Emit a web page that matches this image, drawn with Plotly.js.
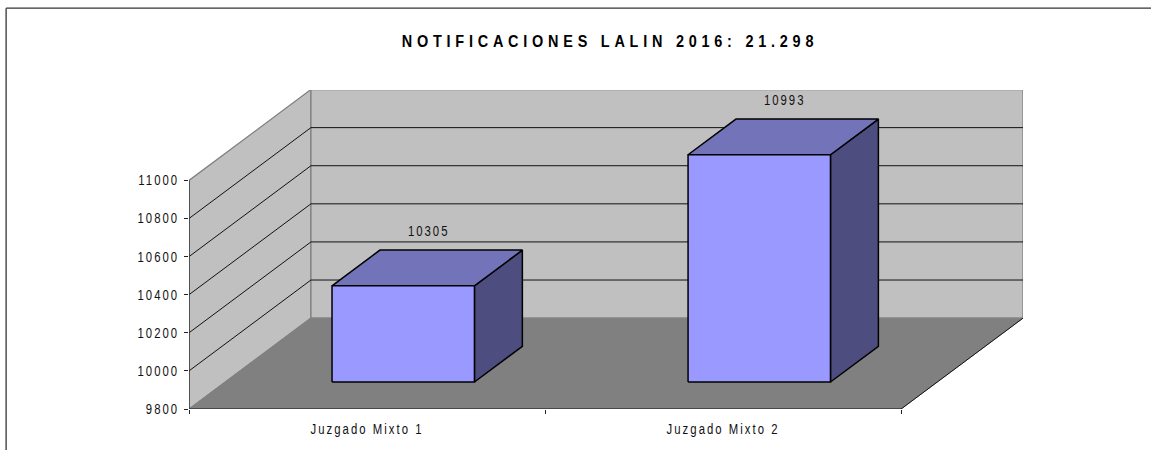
<!DOCTYPE html>
<html><head><meta charset="utf-8">
<script src="https://cdn.plot.ly/plotly-3.0.1.min.js"></script>
<style>
html,body{margin:0;padding:0;background:#fff}
#chart{width:1151px;height:450px}
.gtitle{letter-spacing:5.6px}
.xtick text,.ytick text,.annotation-text{letter-spacing:2.5px}
</style></head><body><div id="chart"></div>
<script>
const chartTitle = 'NOTIFICACIONES LALIN 2016: 21.298';
const categories = ['Juzgado Mixto 1', 'Juzgado Mixto 2'];
const values = [10305, 10993];
const yTicks = [9800, 10000, 10200, 10400, 10600, 10800, 11000];
const yTickLabels = ['9800', '10000', '10200', '10400', '10600', '10800', '11000'];
const yBase = 9800, yTop = 11000;
const catPx = 356.25;
const depthX = 122 / catPx, depthY = 477;        // oblique depth vector in axis units
const barHalf = 0.2, barD0 = 0.297, barD1 = 0.69;
const nCat = categories.length;
const P = (x, v, d) => [x + d * depthX, v + d * depthY];
const poly = (pts, fill, lineColor, lineWidth) => ({
  type: 'scatter', mode: 'lines', cliponaxis: false, hoverinfo: 'skip', showlegend: false,
  x: pts.map(p => p[0]), y: pts.map(p => p[1]),
  fill: fill ? 'toself' : 'none', fillcolor: fill || undefined,
  line: {color: lineColor, width: lineWidth}
});
const traces = [];
// walls and floor
traces.push(poly([P(0,yBase,0),P(0,yBase,1),P(0,yTop,1),P(0,yTop,0),P(0,yBase,0)], '#c0c0c0', '#808080', 1.3));
traces.push(poly([P(0,yBase,1),P(nCat,yBase,1),P(nCat,yTop,1),P(0,yTop,1),P(0,yBase,1)], '#c0c0c0', '#808080', 1.3));
traces.push(poly([P(0,yBase,0),P(nCat,yBase,0),P(nCat,yBase,1),P(0,yBase,1),P(0,yBase,0)], '#808080', '#808080', 1));
// gridlines
yTicks.slice(1, -1).forEach(v => {
  traces.push(poly([P(0,v,0),P(0,v,1),P(nCat,v,1)], null, '#111', 1));
});
// floor front / right edges and value axis
traces.push(poly([P(nCat,yBase,1),P(nCat,yBase,0),P(0,yBase,0)], null, '#111', 1));
traces.push(poly([P(0,yBase,0),P(0,yTop,0)], null, '#333', 1.4));
// bars
values.forEach((v, i) => {
  const a = i + 0.5 - barHalf, b = i + 0.5 + barHalf;
  traces.push(poly([P(b,yBase,barD0),P(b,yBase,barD1),P(b,v,barD1),P(b,v,barD0),P(b,yBase,barD0)], '#4d4d80', '#000', 1.5));
  traces.push(poly([P(a,v,barD0),P(a,v,barD1),P(b,v,barD1),P(b,v,barD0),P(a,v,barD0)], '#7373ba', '#000', 1.5));
  traces.push(poly([P(a,yBase,barD0),P(b,yBase,barD0),P(b,v,barD0),P(a,v,barD0),P(a,yBase,barD0)], '#9999ff', '#000', 1.5));
});
const annotations = values.map((v, i) => {
  const p = P(i + 0.5, v, (barD0 + barD1) / 2);
  return {x: p[0], y: p[1], xref: 'x', yref: 'y', text: String(v), showarrow: false,
          yanchor: 'middle', xanchor: 'center', yshift: 37, xshift: 1, font: {size: 14, color: '#111'}};
});
const W = 1151, H = 450, L = 188.5, R = 1023, T = 89.5, B = 409;
const layout = {
  width: W, height: H, paper_bgcolor: '#fff', plot_bgcolor: 'rgba(0,0,0,0)',
  margin: {l: L, r: W - R, t: T, b: H - B, pad: 0},
  font: {family: '"Liberation Sans", Arial, sans-serif', size: 14, color: '#111'},
  showlegend: false,
  title: {text: chartTitle, xref: 'container', yref: 'container', x: 610 / W, xanchor: 'center',
          y: 1 - 41 / H, yanchor: 'middle', font: {size: 17, color: '#000', weight: 'bold'}},
  xaxis: {range: [0, (R - L) / catPx], tickmode: 'array', tickvals: categories.map((c, i) => i + 0.5),
          ticktext: categories, ticks: '', showgrid: false, zeroline: false, showline: false, fixedrange: true,
          ticklabelstandoff: 10,
          minor: {tickmode: 'array', tickvals: categories.map((c, i) => i).concat(nCat), ticks: 'outside',
                  ticklen: 4, tickwidth: 1, tickcolor: '#222', showgrid: false}},
  yaxis: {range: [yBase, yBase + (B - T) / 0.1908], tickmode: 'array', tickvals: yTicks, ticktext: yTickLabels,
          ticks: 'outside', ticklen: 4, tickwidth: 1, tickcolor: '#222', showgrid: false, zeroline: false,
          showline: false, fixedrange: true, ticklabelstandoff: 2},
  annotations,
  shapes: [
    {type: 'line', xref: 'paper', yref: 'paper', x0: (5.5 - L) / (R - L), x1: (W + 5 - L) / (R - L),
     y0: (B - 7.5) / (B - T), y1: (B - 7.5) / (B - T), line: {color: '#333', width: 1.3}},
    {type: 'line', xref: 'paper', yref: 'paper', x0: (5.5 - L) / (R - L), x1: (5.5 - L) / (R - L),
     y0: (B - 7.5) / (B - T), y1: (B - H - 5) / (B - T), line: {color: '#333', width: 1.3}}
  ]
};
// the reference uses horizontally condensed lettering: squeeze each real text run
const condense = (sel, k) => document.querySelectorAll(sel).forEach(t => {
  t.setAttribute('textLength', t.getComputedTextLength() * k);
  t.setAttribute('lengthAdjust', 'spacingAndGlyphs');
});
Plotly.newPlot('chart', traces, layout, {displayModeBar: false, staticPlot: true}).then(() => {
  condense('.xtick text, .ytick text, .annotation-text', 0.81);
  condense('.gtitle', 0.85);
});
</script></body></html>
